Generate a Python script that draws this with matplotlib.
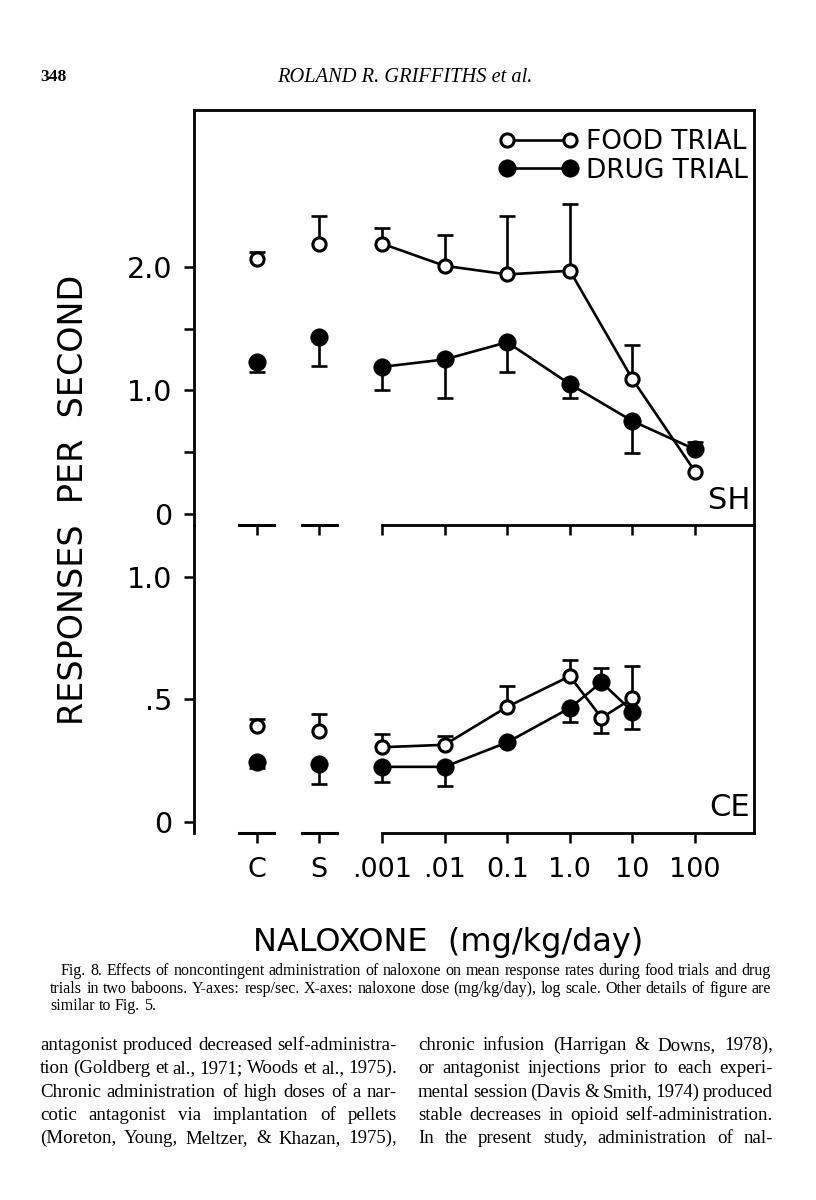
import numpy as np
import matplotlib
matplotlib.use("Agg")
import matplotlib.pyplot as plt

# ---- data ----
dose_labels = ["C", "S", ".001", ".01", "0.1", "1.0", "10", "100"]
ctrl_pos = [-5, -4]                      # C and S sit left of the log axis
decade_doses = [0.001, 0.01, 0.1, 1.0, 10, 100]

# baboon SH
sh_doses = [0.001, 0.01, 0.1, 1.0, 10, 100]
sh_food_ctrl = [2.065, 2.19]
sh_food_ctrl_err = [0.055, 0.22]         # + = bar above, - = bar below
sh_food = [2.19, 2.01, 1.94, 1.97, 1.09, 0.34]
sh_food_err = [0.13, 0.25, 0.47, 0.54, 0.28, 0.0]
sh_drug_ctrl = [1.23, 1.43]
sh_drug_ctrl_err = [-0.08, -0.23]
sh_drug = [1.19, 1.25, 1.39, 1.05, 0.75, 0.52]
sh_drug_err = [-0.19, -0.31, -0.24, -0.11, -0.26, 0.06]

# baboon CE
ce_doses = [0.001, 0.01, 0.1, 1.0, 3.2, 10]
ce_food_ctrl = [0.39, 0.37]
ce_food_ctrl_err = [0.03, 0.07]
ce_food = [0.305, 0.315, 0.47, 0.595, 0.425, 0.505]
ce_food_err = [0.055, 0.035, 0.085, 0.065, -0.06, 0.13]
ce_drug_ctrl = [0.245, 0.235]
ce_drug_ctrl_err = [-0.025, -0.08]
ce_drug = [0.225, 0.225, 0.325, 0.465, 0.57, 0.45]
ce_drug_err = [-0.06, -0.08, 0.0, -0.055, 0.06, -0.07]

caption = [
    "Fig. 8. Effects of noncontingent administration of naloxone on mean response rates during food trials and drug",
    "trials in two baboons. Y-axes: resp/sec. X-axes: naloxone dose (mg/kg/day), log scale. Other details of figure are",
    "similar to Fig. 5.",
]
body_left = [
    "antagonist produced decreased self-administra-",
    "tion (Goldberg et al., 1971; Woods et al., 1975).",
    "Chronic administration of high doses of a nar-",
    "cotic antagonist via implantation of pellets",
    "(Moreton, Young, Meltzer, & Khazan, 1975),",
]
body_right = [
    "chronic infusion (Harrigan & Downs, 1978),",
    "or antagonist injections prior to each experi-",
    "mental session (Davis & Smith, 1974) produced",
    "stable decreases in opioid self-administration.",
    "In the present study, administration of nal-",
]

W, H = 816, 1200
SANS = "DejaVu Sans"
SERIF = "Liberation Serif"

fig = plt.figure(figsize=(W / 100, H / 100), dpi=100)
fig.patch.set_facecolor("white")


def px(x, y):
    return x / W, 1 - y / H


def box(x0, y0, x1, y1):
    return [x0 / W, 1 - y1 / H, (x1 - x0) / W, (y1 - y0) / H]


ax1 = fig.add_axes(box(194, 110, 754, 525))
ax2 = fig.add_axes(box(194, 525, 754, 833))
xlim = (-6.0, 2.94)


def draw_series(ax, xs, ys, errs, filled, connect=True):
    xs = np.asarray(xs, float)
    ys = np.asarray(ys, float)
    errs = np.asarray(errs, float)
    m = errs != 0
    ax.vlines(xs[m], ys[m], ys[m] + errs[m], color="k", lw=1.9, zorder=2)
    ax.plot(xs[m], ys[m] + errs[m], ls="none", marker="_", ms=11.5, mew=1.9,
            color="k", zorder=2)
    if filled:
        kw = dict(marker="o", ms=12.5, mfc="k", mec="k", mew=0.5)
    else:
        kw = dict(marker="o", ms=9.5, mfc="white", mec="k", mew=2.2)
    ln = ax.plot(xs, ys, color="k", lw=1.9, ls="-" if connect else "none",
                 zorder=3, **kw)
    return ln[0]


def style_axis(ax, top):
    ax.set_facecolor("none")
    ax.set_xlim(*xlim)
    for s in ax.spines.values():
        s.set_linewidth(2.0)
    ax.spines["top"].set_visible(top)
    ax.spines["bottom"].set_bounds(-3, xlim[1])
    ticks = ctrl_pos + list(np.log10(decade_doses))
    ax.set_xticks(ticks)
    ax.tick_params(axis="both", direction="out", length=7.5, width=1.8,
                   labelsize=20.5)
    ax.tick_params(axis="y", pad=8)
    ax.tick_params(axis="x", pad=10)
    # the "T" shaped axis stubs under C and S
    for c in ctrl_pos:
        ax.plot([c - 0.28, c + 0.28], [0, 0], color="k", lw=2.2,
                transform=ax.get_xaxis_transform(), clip_on=False)
    for lab in ax.get_yticklabels() + ax.get_xticklabels():
        lab.set_family(SANS)


# ---- SH panel ----
style_axis(ax1, True)
ax1.set_ylim(-0.093, 3.274)
ax1.set_yticks([0, 0.5, 1.0, 1.5, 2.0])
ax1.set_yticklabels(["0", "", "1.0", "", "2.0"])
ax1.set_xticklabels([""] * len(dose_labels))
draw_series(ax1, ctrl_pos, sh_food_ctrl, sh_food_ctrl_err, False, connect=False)
food_ln = draw_series(ax1, np.log10(sh_doses), sh_food, sh_food_err, False)
draw_series(ax1, ctrl_pos, sh_drug_ctrl, sh_drug_ctrl_err, True, connect=False)
drug_ln = draw_series(ax1, np.log10(sh_doses), sh_drug, sh_drug_err, True)
ax1.text(0.993, 0.06, "SH", transform=ax1.transAxes, ha="right", va="center",
         fontsize=22, family=SANS)

leg = ax1.legend([food_ln, drug_ln], ["FOOD TRIAL", "DRUG TRIAL"],
                 numpoints=2, frameon=False, fontsize=19, loc="upper left",
                 bbox_to_anchor=px(499, 129), bbox_transform=fig.transFigure,
                 borderpad=0, borderaxespad=0, handlelength=3.0,
                 handletextpad=0.3, labelspacing=0.1)
for t in leg.get_texts():
    t.set_family(SANS)

# ---- CE panel ----
style_axis(ax2, False)
ax2.set_ylim(-0.045, 1.212)
ax2.set_yticks([0, 0.5, 1.0])
ax2.set_yticklabels(["0", ".5", "1.0"])
ax2.set_xticklabels(dose_labels)
for lab in ax2.get_xticklabels():
    lab.set_family(SANS)
    lab.set_fontsize(19.5)
draw_series(ax2, ctrl_pos, ce_food_ctrl, ce_food_ctrl_err, False, connect=False)
draw_series(ax2, np.log10(ce_doses), ce_food, ce_food_err, False)
draw_series(ax2, ctrl_pos, ce_drug_ctrl, ce_drug_ctrl_err, True, connect=False)
draw_series(ax2, np.log10(ce_doses), ce_drug, ce_drug_err, True)
ax2.text(0.993, 0.084, "CE", transform=ax2.transAxes, ha="right", va="center",
         fontsize=22, family=SANS)

# axis titles
fig.text(*px(74, 500), "RESPONSES  PER  SECOND", rotation=90, ha="center",
         va="center", fontsize=24, family=SANS)
fig.text(*px(448, 942), "NALOXONE  (mg/kg/day)", ha="center", va="center",
         fontsize=23, family=SANS)

# ---- page text ----
fig.text(*px(40, 81), "348", ha="left", va="baseline", fontsize=12.5,
         family=SERIF, weight="bold")
fig.text(*px(405, 82), "ROLAND R. GRIFFITHS et al.", ha="center", va="baseline",
         fontsize=14.7, family=SERIF, style="italic")

renderer = fig.canvas.get_renderer()


def justify(line, x0, x1, y, size, full=True, weight="normal"):
    words = line.split()

    def measure(s):
        ts = [fig.text(0, 0, w, fontsize=s, family=SERIF, va="baseline",
                       weight=weight) for w in words]
        return ts, [t.get_window_extent(renderer).width for t in ts]

    texts, widths = measure(size)
    min_gap = size * 0.18
    need = sum(widths) + min_gap * (len(words) - 1)
    if full and need > x1 - x0:
        # line too long for this font: shrink just this line a little
        for t in texts:
            t.remove()
        texts, widths = measure(size * (x1 - x0) / need)
    if full and len(words) > 1:
        gap = (x1 - x0 - sum(widths)) / (len(words) - 1)
    else:
        gap = size * 0.35
    x = x0
    for t, w in zip(texts, widths):
        t.set_position(px(x, y))
        x += w + gap


cap_size = 11.5
cap_y = [975, 993, 1010]
justify(caption[0], 61, 771, cap_y[0], cap_size)
justify(caption[1], 50, 771, cap_y[1], cap_size)
justify(caption[2], 50, 771, cap_y[2], cap_size, full=False)

body_size = 13.6
body_y = [1050, 1073, 1097, 1120, 1143]
for line, y in zip(body_left, body_y):
    justify(line, 40, 397, y, body_size)
for line, y in zip(body_right, body_y):
    justify(line, 418, 773, y, body_size)

fig.savefig("out.png", dpi=100, facecolor="white")
